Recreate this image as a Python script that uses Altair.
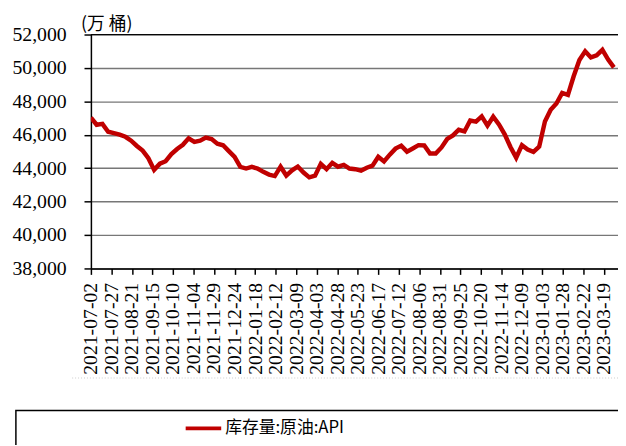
import altair as alt
import pandas as pd

start_date = "2021-07-02"
stock = [
    47030, 46600, 46650, 46180, 46100, 46010, 45880, 45650, 45330, 45050,
    44600, 43900, 44270, 44420, 44840, 45150, 45400, 45790, 45570, 45650,
    45830, 45740, 45470, 45370, 45020, 44680, 44080, 43980, 44080, 43980,
    43780, 43620, 43530, 44090, 43560, 43870, 44100, 43740, 43450, 43550,
    44260, 43940, 44320, 44090, 44200, 43980, 43940, 43850, 44030, 44150,
    44680, 44400, 44810, 45170, 45350, 44990, 45180, 45380, 45360, 44880,
    44880, 45240, 45750, 45960, 46300, 46200, 46850, 46790, 47100, 46550,
    47080, 46620, 46030, 45270, 44630, 45380, 45120, 44980, 45290, 46800,
    47500, 47870, 48500, 48390, 49500, 50480, 51000, 50630, 50750, 51080,
    50500, 50030,
]
tick_labels = [
    "2021-07-02", "2021-07-27", "2021-08-21", "2021-09-15", "2021-10-10",
    "2021-11-04", "2021-11-29", "2021-12-24", "2022-01-18", "2022-02-12",
    "2022-03-09", "2022-04-03", "2022-04-28", "2022-05-23", "2022-06-17",
    "2022-07-12", "2022-08-06", "2022-08-31", "2022-09-25", "2022-10-20",
    "2022-11-14", "2022-12-09", "2023-01-03", "2023-01-28", "2023-02-22",
    "2023-03-19",
]
y_ticks = [38000, 40000, 42000, 44000, 46000, 48000, 50000, 52000]
unit_text = "(万 桶)"
series_name = "库存量:原油:API"

dates = pd.date_range(start_date, periods=len(stock), freq="7D").strftime("%Y-%m-%d")
df = pd.DataFrame({"date": list(dates), "value": stock})


def ms(s):
    return int(pd.Timestamp(s, tz="UTC").timestamp() * 1000)


W, H = 534, 237
RED = "#C00000"
SERIF = "'Liberation Serif', 'Times New Roman', serif"
x_domain = [ms("2021-07-02"), ms("2023-04-05")]
y_scale = alt.Scale(domain=[38000, 52000], nice=False, zero=False)

line = alt.Chart(df).mark_line(color=RED, strokeWidth=4.5, clip=True).encode(
    x=alt.X(
        "date:T",
        scale=alt.Scale(type="utc", domain=x_domain),
        axis=alt.Axis(
            values=[ms(t) for t in tick_labels],
            labelExpr="utcFormat(datum.value, '%Y-%m-%d')",
            labelAngle=270,
            title=None,
            grid=False,
            domainColor="black",
            domainWidth=1.5,
            tickColor="black",
            tickWidth=1.5,
            tickSize=6,
            labelPadding=8,
            labelFont=SERIF,
            labelFontSize=20,
            labelColor="black",
            labelOverlap=False,
        ),
    ),
    y=alt.Y(
        "value:Q",
        scale=y_scale,
        axis=alt.Axis(
            values=y_ticks,
            format=",.0f",
            title=None,
            grid=True,
            gridColor="#777777",
            gridWidth=1.5,
            domainColor="black",
            domainWidth=1.5,
            tickColor="black",
            tickWidth=1.5,
            tickSize=7,
            labelPadding=18,
            labelFont=SERIF,
            labelFontSize=20,
            labelColor="black",
            labelOverlap=False,
        ),
    ),
)

top_rule = alt.Chart(pd.DataFrame({"a": [0]})).mark_rule(color="black", strokeWidth=1).encode(
    x=alt.value(0), x2=alt.value(W), y=alt.value(0)
)

unit = alt.Chart(pd.DataFrame({"t": [unit_text]})).mark_text(
    align="left", baseline="middle", font="Noto Sans CJK SC", fontSize=18, color="black"
).encode(text="t:N", x=alt.value(-10), y=alt.value(-10))

dotted = alt.Chart(pd.DataFrame({"a": [0]})).mark_rule(
    color="#cccccc", strokeWidth=1, strokeDash=[1, 2]
).encode(x=alt.value(-19), x2=alt.value(W + 10), y=alt.value(348))

legend_box = alt.Chart(pd.DataFrame({"a": [0]})).mark_rect(
    fill="white", stroke="black", strokeWidth=1.5
).encode(x=alt.value(-76), x2=alt.value(W + 20), y=alt.value(381), y2=alt.value(460))

legend_line = alt.Chart(pd.DataFrame({"a": [0]})).mark_rule(
    color=RED, strokeWidth=4
).encode(x=alt.value(96), x2=alt.value(132), y=alt.value(399))

legend_text = alt.Chart(pd.DataFrame({"t": [series_name]})).mark_text(
    align="left", baseline="middle", font="Noto Sans CJK SC", fontSize=17, color="black"
).encode(text="t:N", x=alt.value(136), y=alt.value(399))

chart = (
    alt.layer(line, top_rule, unit, dotted, legend_box, legend_line, legend_text)
    .properties(
        width=W,
        height=H,
        autosize=alt.AutoSizeParams(type="none"),
        padding={"left": 84, "top": 24, "right": 0, "bottom": 176},
    )
    .configure_view(stroke=None)
    .configure(background="white")
)

chart.save("out.html", embed_options={"renderer": "svg", "actions": False})
